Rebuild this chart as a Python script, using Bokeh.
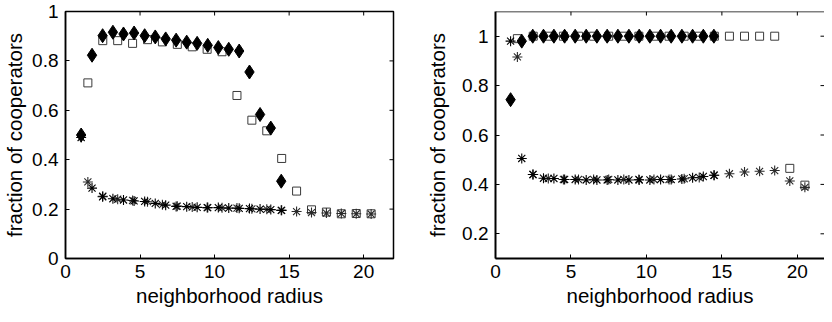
import math
from bokeh.plotting import figure
from bokeh.layouts import row
from bokeh.models import FixedTicker, Range1d, Span
from bokeh.embed import file_html
from bokeh.resources import INLINE

# ---------------- data ----------------
# left panel
left_sq_x = [1.5, 2.5, 3.5, 4.5, 5.5, 6.5, 7.5, 8.5, 9.5, 10.5,
             11.5, 12.5, 13.5, 14.5, 15.5, 16.5, 17.5, 18.5, 19.5, 20.5]
left_sq_y = [0.711, 0.882, 0.882, 0.871, 0.886, 0.877, 0.867, 0.857, 0.847, 0.837,
             0.66, 0.56, 0.517, 0.405, 0.273, 0.197, 0.188, 0.181, 0.182, 0.181]
left_sq_star_y = [0.31, 0.252, 0.24, 0.235, 0.23, 0.218, 0.212, 0.208, 0.206, 0.205,
                  0.204, 0.201, 0.199, 0.195, 0.19, 0.186, 0.184, 0.182, 0.181, 0.18]
left_dia_x = [1.05, 1.78, 2.49, 3.18, 3.89, 4.6, 5.31, 6.02, 6.72, 7.42,
              8.13, 8.83, 9.54, 10.25, 10.95, 11.65, 12.34, 13.05, 13.77, 14.47]
left_dia_y = [0.50, 0.823, 0.902, 0.916, 0.909, 0.913, 0.902, 0.897, 0.889, 0.884,
              0.876, 0.871, 0.863, 0.854, 0.847, 0.840, 0.755, 0.583, 0.528, 0.313]
left_dia_star_y = [0.49, 0.285, 0.25, 0.242, 0.237, 0.233, 0.231, 0.223, 0.216, 0.211,
                   0.21, 0.207, 0.206, 0.206, 0.204, 0.203, 0.202, 0.2, 0.198, 0.195]

# right panel
right_sq_x = [1.45, 2.5, 3.5, 4.5, 5.5, 6.5, 7.5, 8.5, 9.5, 10.5,
              11.5, 12.5, 13.5, 14.5, 15.5, 16.5, 17.5, 18.5, 19.5, 20.5]
right_sq_y = [0.99, 1.0, 1.0, 1.0, 1.0, 1.0, 1.0, 1.0, 1.0, 1.0,
              1.0, 1.0, 1.0, 1.0, 1.0, 1.0, 1.0, 1.0, 0.465, 0.397]
right_sq_star_y = [0.916, 0.44, 0.424, 0.42, 0.42, 0.42, 0.42, 0.42, 0.42, 0.42,
                   0.42, 0.423, 0.428, 0.437, 0.443, 0.45, 0.453, 0.456, 0.414, 0.388]
right_dia_x = [1.0, 1.74, 2.47, 3.18, 3.87, 4.58, 5.28, 6.01, 6.72, 7.4,
               8.11, 8.84, 9.52, 10.23, 10.94, 11.64, 12.35, 13.06, 13.77, 14.47]
right_dia_y = [0.743, 0.98, 1.0, 1.0, 1.0, 1.0, 1.0, 1.0, 1.0, 1.0,
               1.0, 1.0, 1.0, 1.0, 1.0, 1.0, 1.0, 1.0, 1.0, 1.0]
right_dia_star_y = [0.98, 0.505, 0.44, 0.425, 0.424, 0.42, 0.42, 0.418, 0.418, 0.418,
                    0.418, 0.418, 0.418, 0.418, 0.42, 0.42, 0.422, 0.427, 0.432, 0.437]

x_ticks = [0, 5, 10, 15, 20]
left_y_ticks = [0, 0.2, 0.4, 0.6, 0.8, 1]
left_y_labels = ["0", "0.2", "0.4", "0.6", "0.8", "1"]
right_y_ticks = [0.2, 0.4, 0.6, 0.8, 1]
right_y_labels = ["0.2", "0.4", "0.6", "0.8", "1"]

x_label = "neighborhood radius"
y_label = "fraction of cooperators"

FONT = "Liberation Sans"
TICK_FS = "19px"
LABEL_FS = "20.5px"


def style_main_axis(ax, ticks, overrides, lw):
    ax.ticker = FixedTicker(ticks=ticks)
    ax.major_label_overrides = overrides
    ax.major_tick_in = 4
    ax.major_tick_out = 0
    ax.minor_tick_in = 0
    ax.minor_tick_out = 0
    ax.axis_line_width = lw
    ax.axis_line_color = "black"
    ax.major_tick_line_color = "black"
    ax.major_label_text_font = FONT
    ax.major_label_text_font_size = TICK_FS
    ax.major_label_text_color = "black"
    ax.axis_label_text_font = FONT
    ax.axis_label_text_font_size = LABEL_FS
    ax.axis_label_text_font_style = "normal"
    ax.axis_label_text_color = "black"


def make_panel(width, border_left, border_right, x_end, y_range, y_ticks, y_labels,
               sq_x, sq_y, sq_star_y, dia_x, dia_y, dia_star_y, lw, boxed,
               ylabel_standoff):
    p = figure(width=width, height=314, output_backend="svg", toolbar_location=None,
               x_range=Range1d(0, x_end), y_range=Range1d(*y_range),
               min_border_left=border_left, min_border_right=border_right,
               min_border_top=11, min_border_bottom=56)
    p.grid.visible = False
    p.background_fill_color = "white"
    p.border_fill_color = "white"
    if boxed:
        p.outline_line_color = "black"
        p.outline_line_width = lw
    else:
        p.outline_line_color = None
        p.add_layout(Span(location=y_range[1], dimension="width",
                          line_color="black", line_width=1.5))

    xo = {t: str(t) for t in x_ticks}
    yo = dict(zip(y_ticks, y_labels))
    style_main_axis(p.xaxis[0], x_ticks, xo, lw)
    style_main_axis(p.yaxis[0], y_ticks, yo, lw)
    p.xaxis[0].axis_label = x_label
    p.yaxis[0].axis_label = y_label
    p.xaxis[0].major_label_standoff = 6
    p.xaxis[0].axis_label_standoff = 3
    p.yaxis[0].major_label_standoff = 7
    p.yaxis[0].axis_label_standoff = ylabel_standoff

    # mirrored inward ticks on top and right
    top_t = [t for t in x_ticks if t > 0]
    p.ray(x=top_t, y=[y_range[1]] * len(top_t), length=4, length_units="screen",
          angle=-math.pi / 2, line_color="black", line_width=1)
    p.ray(x=[x_end] * len(y_ticks), y=y_ticks, length=4, length_units="screen",
          angle=math.pi, line_color="black", line_width=1)

    p.scatter(sq_x, sq_y, marker="square", size=8, fill_color=None,
              line_color="#3a3a3a", line_width=1)
    p.scatter(dia_x, dia_y, marker="diamond", size=14, fill_color="black",
              line_color="black", line_width=1)
    p.scatter(sq_x, sq_star_y, marker="asterisk", size=10, line_color="#2a2a2a",
              line_width=1.1)
    p.scatter(dia_x, dia_star_y, marker="asterisk", size=10, line_color="black",
              line_width=1.1)
    return p


left = make_panel(412, 61, 19, 22, (0, 1), left_y_ticks, left_y_labels,
                  left_sq_x, left_sq_y, left_sq_star_y,
                  left_dia_x, left_dia_y, left_dia_star_y, 1.5, True, 3)
right = make_panel(412, 83, 0, 21.8, (0.1, 1.1), right_y_ticks, right_y_labels,
                   right_sq_x, right_sq_y, right_sq_star_y,
                   right_dia_x, right_dia_y, right_dia_star_y, 2, False, 10)

layout = row(left, right)
open("out.html", "w").write(file_html(layout, INLINE))
